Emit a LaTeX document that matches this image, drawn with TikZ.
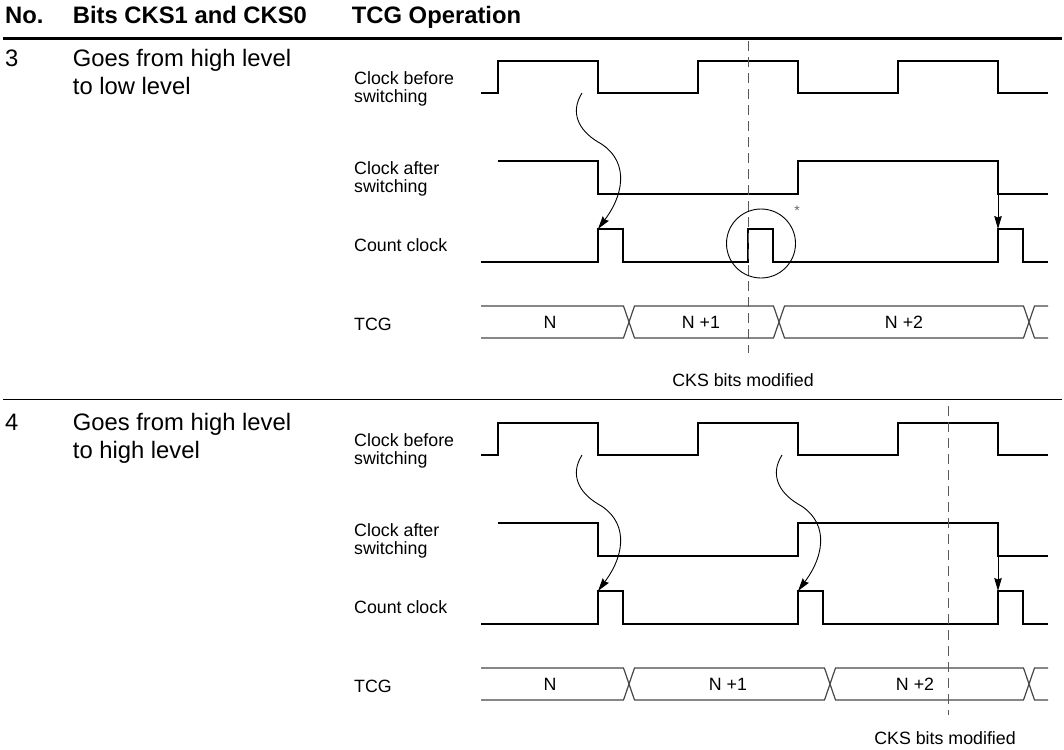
\documentclass[tikz,border=0pt]{standalone}
\usepackage{fontspec}
\setmainfont{Liberation Sans}
\usetikzlibrary{arrows.meta}
\newcommand\lblfont{\fontsize{17.8}{18.7}\selectfont}
\newcommand\bigfont{\fontsize{23.8}{28.3}\selectfont}
\begin{document}
\begin{tikzpicture}[x=1pt,y=-1pt,
  wave/.style={line width=1.3pt,line join=miter},
  bus/.style={line width=1.2pt,draw=black!72},
  ckline/.style={line width=1pt,draw=black!65,dash pattern=on 10pt off 6pt},
  conn/.style={line width=0.9pt,-{Stealth[length=13pt,width=7.5pt,inset=1.5pt]}},
  lbl/.style={font=\lblfont,inner sep=0pt,anchor=base west,align=left},
  big/.style={font=\bigfont,inner sep=0pt,anchor=base west,align=left},
  hdr/.style={font=\bigfont\bfseries,inner sep=0pt,anchor=base west},
  buslbl/.style={font=\lblfont,inner sep=0pt},
  note/.style={font=\lblfont,inner sep=0pt},
  ring/.style={draw,circle,minimum size=69pt,inner sep=0pt,line width=0.9pt},
  star/.style={font=\fontsize{14}{14}\selectfont,text=black!60,inner sep=0pt}]
\useasboundingbox (0,0) rectangle (1064,749);

% header
\node[hdr] (hNo) at (5,23.3) {No.};
\node[hdr] (hBits) at (72.7,23.3) {Bits CKS1 and CKS0};
\node[hdr] (hTCG) at (351.7,23.3) {TCG Operation};
\draw[line width=3pt] (3,38.5) -- (1062,38.5);
\draw[line width=1pt] (3,399) -- (1062,399);

% ---------------- row 3 ----------------
\node[big] (n3) at (5,66.7) {3};
\node[big] (d3) at (72.7,95) {Goes from high level\\to low level};
\node[lbl] (a1) at (354,102.7) {Clock before\\switching};
\node[lbl] (a2) at (354,192.7) {Clock after\\switching};
\node[lbl] (a3) at (354,251.7) {Count clock};
\node[lbl] (a4) at (354,330) {TCG};

\draw[wave] (481,93) -- (498,93) -- (498,61) -- (598,61) -- (598,93) -- (698,93) -- (698,61)
  -- (798,61) -- (798,93) -- (898,93) -- (898,61) -- (998,61) -- (998,93) -- (1048,93);
\draw[wave] (498,161) -- (598,161) -- (598,194) -- (798,194) -- (798,161) -- (998,161)
  -- (998,194) -- (1048,194);
\draw[wave] (481,262) -- (598,262) -- (598,229) -- (623,229) -- (623,262) -- (748,262)
  -- (748,229) -- (773,229) -- (773,262) -- (998,262) -- (998,229) -- (1023,229)
  -- (1023,262) -- (1048,262);
\draw[bus] (481,306) -- (623.5,306) -- (634.5,338) -- (773.5,338) -- (784.5,306)
  -- (1023.5,306) -- (1034.5,338) -- (1048,338);
\draw[bus] (481,338) -- (623.5,338) -- (634.5,306) -- (773.5,306) -- (784.5,338)
  -- (1023.5,338) -- (1034.5,306) -- (1048,306);
\node[buslbl] (t3a) at (550,322) {N};
\node[buslbl] (t3b) at (701,322) {N +1};
\node[buslbl] (t3c) at (904,322) {N +2};

\coordinate (k3top) at (748.3,41);
\coordinate (k3bot) at (748.3,353);
\draw[ckline] (k3top) -- (k3bot);
\node[note] (m3) at (743,380) {CKS bits modified};

\node[ring] (c3) at (761,243.5) {};
\node[star] (s3) at (797,211) {*};

\coordinate (p3s) at (582,93);
\coordinate (p3e) at (598,229);
\draw[conn] (p3s) .. controls (570,112) and (578,130) .. (598,142)
  .. controls (627,158) and (627,190) .. (p3e);
\coordinate (q3s) at (998,194);
\coordinate (q3e) at (998,229);
\draw[conn] (q3s) -- (q3e);

% ---------------- row 4 ----------------
\node[big] (n4) at (5,430) {4};
\node[big] (d4) at (72.7,458.3) {Goes from high level\\to high level};

\begin{scope}[yshift=-362pt]
\node[lbl] (b1) at (354,102.7) {Clock before\\switching};
\node[lbl] (b2) at (354,192.7) {Clock after\\switching};
\node[lbl] (b3) at (354,251.7) {Count clock};
\node[lbl] (b4) at (354,330) {TCG};

\draw[wave] (481,93) -- (498,93) -- (498,61) -- (598,61) -- (598,93) -- (698,93) -- (698,61)
  -- (798,61) -- (798,93) -- (898,93) -- (898,61) -- (998,61) -- (998,93) -- (1048,93);
\draw[wave] (498,161) -- (598,161) -- (598,194) -- (798,194) -- (798,161) -- (998,161)
  -- (998,194) -- (1048,194);
\draw[wave] (481,262) -- (598,262) -- (598,229) -- (623,229) -- (623,262) -- (798,262)
  -- (798,229) -- (823,229) -- (823,262) -- (998,262) -- (998,229) -- (1023,229)
  -- (1023,262) -- (1048,262);
\draw[bus] (481,306) -- (623.5,306) -- (634.5,338) -- (824.5,338) -- (835.5,306)
  -- (1023.5,306) -- (1034.5,338) -- (1048,338);
\draw[bus] (481,338) -- (623.5,338) -- (634.5,306) -- (824.5,306) -- (835.5,338)
  -- (1023.5,338) -- (1034.5,306) -- (1048,306);
\node[buslbl] (t4a) at (550,322) {N};
\node[buslbl] (t4b) at (728,322) {N +1};
\node[buslbl] (t4c) at (915,322) {N +2};

\coordinate (k4top) at (948.3,44);
\coordinate (k4bot) at (948.3,353);
\draw[ckline] (k4top) -- (k4bot);
\node[note] (m4) at (945,376.3) {CKS bits modified};

\coordinate (p4s) at (582,93);
\coordinate (p4e) at (598,229);
\draw[conn] (p4s) .. controls (570,112) and (578,130) .. (598,142)
  .. controls (627,158) and (627,190) .. (p4e);
\coordinate (r4s) at (782,93);
\coordinate (r4e) at (798,229);
\draw[conn] (r4s) .. controls (770,112) and (778,130) .. (798,142)
  .. controls (827,158) and (827,190) .. (r4e);
\coordinate (q4s) at (998,194);
\coordinate (q4e) at (998,229);
\draw[conn] (q4s) -- (q4e);
\end{scope}
\end{tikzpicture}
\end{document}
